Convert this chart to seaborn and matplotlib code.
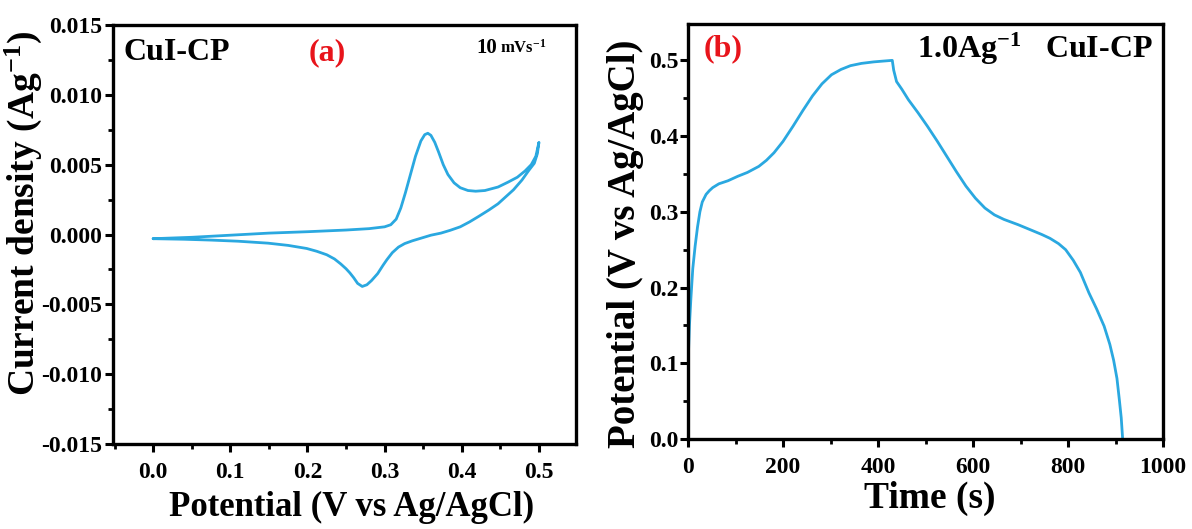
import numpy as np
import pandas as pd
import matplotlib
matplotlib.use("Agg")
import matplotlib.pyplot as plt
import seaborn as sns
from matplotlib.ticker import MultipleLocator, FormatStrFormatter

# ---------------- data ----------------
# (a) CV loop, 10 mV/s : forward (upper) branch then reverse (lower) branch
cv_potential_fwd = [0.000, 0.050, 0.100, 0.150, 0.200, 0.250, 0.280, 0.300, 0.308, 0.315,
                    0.321, 0.327, 0.333, 0.340, 0.347, 0.352, 0.356, 0.360, 0.365, 0.370,
                    0.376, 0.382, 0.390, 0.398, 0.408, 0.418, 0.430, 0.447, 0.460, 0.472,
                    0.482, 0.490, 0.496, 0.500]
cv_current_fwd = [-0.30, -0.20, -0.05, 0.10, 0.20, 0.32, 0.42, 0.55, 0.70, 1.10,
                  1.90, 3.00, 4.20, 5.60, 6.70, 7.15, 7.25, 7.10, 6.60, 5.90,
                  5.00, 4.30, 3.70, 3.35, 3.15, 3.10, 3.15, 3.40, 3.75, 4.10,
                  4.55, 5.00, 5.60, 6.60]
cv_potential_rev = [0.498, 0.494, 0.487, 0.478, 0.467, 0.457, 0.447, 0.435, 0.422, 0.410,
                    0.398, 0.385, 0.373, 0.360, 0.348, 0.336, 0.326, 0.318, 0.310, 0.303,
                    0.298, 0.291, 0.283, 0.277, 0.271, 0.265, 0.260, 0.255, 0.250, 0.243,
                    0.235, 0.225, 0.212, 0.199, 0.175, 0.149, 0.110, 0.075, 0.040, 0.000]
cv_current_rev = [5.80, 5.10, 4.60, 3.90, 3.20, 2.70, 2.20, 1.75, 1.30, 0.90,
                  0.55, 0.30, 0.10, -0.05, -0.25, -0.45, -0.65, -0.90, -1.30, -1.80,
                  -2.20, -2.80, -3.30, -3.60, -3.72, -3.50, -3.10, -2.75, -2.45, -2.10,
                  -1.75, -1.45, -1.20, -1.00, -0.78, -0.62, -0.48, -0.40, -0.34, -0.30]

# (b) GCD at 1.0 A/g
gcd_time = [0, 3, 6, 10, 15, 20, 25, 30, 38, 45, 52, 65, 84, 105, 125, 149, 165, 181,
            200, 221, 242, 262, 282, 302, 322, 342, 365, 391, 410, 430,
            433, 439, 450, 464, 484, 504, 525, 545, 565, 585, 605, 625, 645, 665,
            695, 722, 745, 762, 780, 795, 811, 826, 844, 860, 876, 888, 896, 903,
            908, 912, 915]
gcd_potential = [0.098, 0.150, 0.185, 0.225, 0.255, 0.280, 0.300, 0.313, 0.323, 0.328,
                 0.332, 0.337, 0.341, 0.347, 0.352, 0.360, 0.368, 0.378, 0.393, 0.413,
                 0.434, 0.453, 0.469, 0.481, 0.488, 0.493, 0.496, 0.498, 0.499, 0.500,
                 0.487, 0.472, 0.462, 0.448, 0.431, 0.413, 0.393, 0.373, 0.353, 0.334,
                 0.318, 0.305, 0.296, 0.290, 0.283, 0.276, 0.270, 0.265, 0.258, 0.250,
                 0.236, 0.220, 0.193, 0.172, 0.149, 0.125, 0.104, 0.080, 0.052, 0.028,
                 0.000]

x_ticks_a = [0.0, 0.1, 0.2, 0.3, 0.4, 0.5]
y_ticks_a = [-0.015, -0.010, -0.005, 0.000, 0.005, 0.010, 0.015]
x_ticks_b = [0, 200, 400, 600, 800, 1000]
y_ticks_b = [0.0, 0.1, 0.2, 0.3, 0.4, 0.5]

# ---------------- style ----------------
sns.set_theme(style="ticks")
FONT = "Liberation Serif"
plt.rcParams["font.family"] = [FONT, "DejaVu Serif"]
plt.rcParams["font.weight"] = "bold"
plt.rcParams["text.color"] = "black"
plt.rcParams["axes.labelcolor"] = "black"
plt.rcParams["xtick.color"] = "black"
plt.rcParams["ytick.color"] = "black"
plt.rcParams["xtick.labelcolor"] = "black"
plt.rcParams["ytick.labelcolor"] = "black"
plt.rcParams["mathtext.fontset"] = "custom"
plt.rcParams["mathtext.rm"] = FONT + ":bold"
plt.rcParams["mathtext.bf"] = FONT + ":bold"
plt.rcParams["mathtext.it"] = FONT + ":bold"
plt.rcParams["mathtext.default"] = "rm"
plt.rcParams["axes.unicode_minus"] = False

LINE = "#2aa8e0"

cv_df = pd.DataFrame({
    "E": cv_potential_fwd + cv_potential_rev,
    "I": [v * 1e-3 for v in cv_current_fwd + cv_current_rev],
})
gcd_df = pd.DataFrame({"t": gcd_time, "V": gcd_potential})

fig = plt.figure(figsize=(11.92, 5.29), dpi=100)
ax1 = fig.add_axes([0.0948, 0.1607, 0.3884, 0.7920])
ax2 = fig.add_axes([0.5772, 0.1701, 0.3985, 0.7845])

sns.lineplot(data=cv_df, x="E", y="I", sort=False, estimator=None,
             color=LINE, lw=2.0, ax=ax1)
sns.lineplot(data=gcd_df, x="t", y="V", sort=False, estimator=None,
             color=LINE, lw=2.0, ax=ax2)

def style_axes(ax):
    for s in ax.spines.values():
        s.set_linewidth(2.4)
        s.set_color("black")
    ax.tick_params(which="major", direction="out", length=6, width=2.2,
                   labelsize=17, color="black", labelcolor="black",
                   top=False, right=False)
    ax.tick_params(which="minor", direction="out", length=3.5, width=2.0,
                   color="black", top=False, right=False)
    for lab in ax.get_xticklabels() + ax.get_yticklabels():
        lab.set_fontweight("bold")
        lab.set_fontfamily(FONT)

# panel a
ax1.set_xlim(-0.052, 0.548)
ax1.set_ylim(-0.015, 0.015)
ax1.set_xticks(x_ticks_a)
ax1.set_yticks(y_ticks_a)
ax1.xaxis.set_major_formatter(FormatStrFormatter("%.1f"))
ax1.yaxis.set_major_formatter(FormatStrFormatter("%.3f"))
ax1.xaxis.set_minor_locator(MultipleLocator(0.05))
ax1.yaxis.set_minor_locator(MultipleLocator(0.0025))
style_axes(ax1)
ax1.tick_params(axis="x", which="major", pad=7)
ax1.tick_params(axis="y", which="major", pad=2)
ax1.set_xlabel("Potential (V vs Ag/AgCl)", fontsize=25, fontweight="bold", color="black")
ax1.set_ylabel("Current density (Ag$^{-1}$)", fontsize=27, fontweight="bold", color="black")
ax1.yaxis.set_label_coords(-0.15, 0.55)
ax1.xaxis.set_label_coords(0.515, -0.112)

ax1.text(0.022, 0.935, "CuI-CP", transform=ax1.transAxes, fontsize=23,
         fontweight="bold", va="center", ha="left", color="black")
ax1.text(0.462, 0.935, "(a)", transform=ax1.transAxes, fontsize=23,
         fontweight="bold", va="center", ha="center", color="#e8141b")
ax1.text(0.785, 0.945, "10", transform=ax1.transAxes, fontsize=15,
         fontweight="bold", va="center", ha="left", color="black")
ax1.text(0.835, 0.945, "mVs$^{-1}$", transform=ax1.transAxes, fontsize=12,
         fontweight="bold", va="center", ha="left", color="black")

# panel b
ax2.set_xlim(0, 1000)
ax2.set_ylim(0, 0.548)
ax2.set_xticks(x_ticks_b)
ax2.set_yticks(y_ticks_b)
ax2.yaxis.set_major_formatter(FormatStrFormatter("%.1f"))
ax2.xaxis.set_minor_locator(MultipleLocator(100))
ax2.yaxis.set_minor_locator(MultipleLocator(0.05))
style_axes(ax2)
ax2.tick_params(axis="x", which="major", pad=7)
ax2.tick_params(axis="y", which="major", pad=1)
ax2.set_xlabel("Time (s)", fontsize=27, fontweight="bold", color="black")
ax2.set_ylabel("Potential (V vs Ag/AgCl)", fontsize=28, fontweight="bold", color="black")
ax2.yaxis.set_label_coords(-0.092, 0.47)
ax2.xaxis.set_label_coords(0.508, -0.10)

ax2.text(0.032, 0.94, "(b)", transform=ax2.transAxes, fontsize=23,
         fontweight="bold", va="center", ha="left", color="#e8141b")
ax2.text(0.978, 0.94, "1.0Ag$^{-1}$   CuI-CP", transform=ax2.transAxes, fontsize=23,
         fontweight="bold", va="center", ha="right", color="black")

fig.savefig("out.png", dpi=100, facecolor="white")
